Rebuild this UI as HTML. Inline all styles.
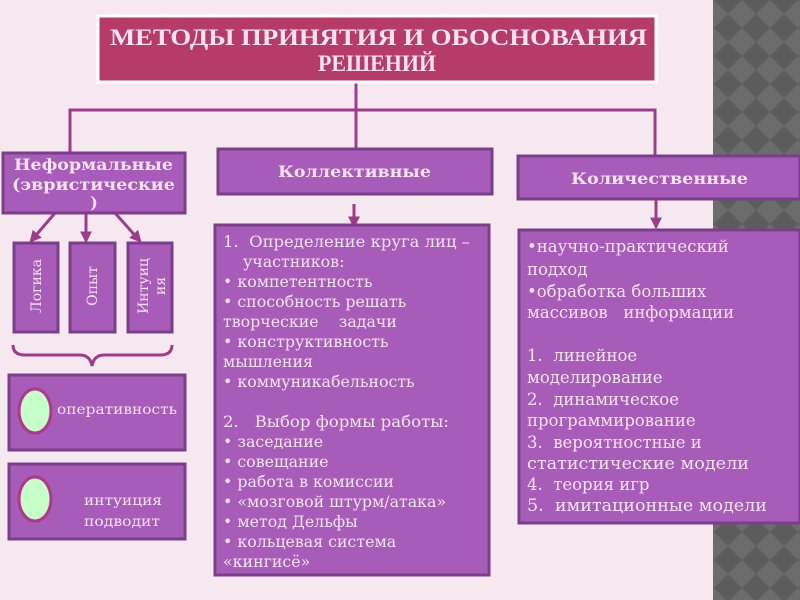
<!DOCTYPE html>
<html><head><meta charset="utf-8"><style>
html,body{margin:0;padding:0;width:800px;height:600px;overflow:hidden;background:#f5e9ef}
svg{display:block}
text{white-space:pre}
.s{font-family:"Liberation Serif","DejaVu Serif",serif;fill:#f3e4f0}
.d{font-family:"DejaVu Serif","Liberation Serif",serif;fill:#f3e4f0}
</style></head><body>
<svg width="800" height="600" xmlns="http://www.w3.org/2000/svg" xml:space="preserve">
<defs>
<pattern id="chk" width="28" height="28" patternUnits="userSpaceOnUse">
<rect width="28" height="28" fill="#5c5c5c"/>
<path d="M14 0 L28 14 L14 28 L0 14Z" fill="#6c6c6c"/>
</pattern>
<marker id="ar" viewBox="0 0 10 10" refX="8" refY="5" markerWidth="4" markerHeight="4" orient="auto"><path d="M0 0L10 5L0 10Z" fill="#a03a8c"/></marker>
</defs>
<rect x="713" y="0" width="87" height="600" fill="url(#chk)"/>
<g stroke="#a03a8c" stroke-width="3" fill="none">
<path d="M356 82 V152"/>
<path d="M70 152 V110 H655 V155"/>
<path d="M354 204 V226" marker-end="url(#ar)"/>
<path d="M656 200 V227" marker-end="url(#ar)"/>
<path d="M55 213 L31 241" marker-end="url(#ar)"/>
<path d="M86 213 V241" marker-end="url(#ar)"/>
<path d="M115 213 L140 241" marker-end="url(#ar)"/>
<path d="M13 345 Q13 355 25 355 H80 Q90 355 92 366 Q94 355 104 355 H160 Q172 355 172 345"/>
</g>
<rect x="98" y="16" width="558" height="66" fill="#b63b68" stroke="#fff" stroke-width="3"/>
<text class="s" x="110" y="45" font-size="23" font-weight="bold" fill="#fbeef5" textLength="537" lengthAdjust="spacingAndGlyphs">МЕТОДЫ ПРИНЯТИЯ И ОБОСНОВАНИЯ</text>
<text class="s" x="318" y="71" font-size="23" font-weight="bold" fill="#fbeef5" textLength="118" lengthAdjust="spacingAndGlyphs">РЕШЕНИЙ</text>
<g fill="#a65cb8" stroke="#7a3e8a" stroke-width="3">
<rect x="3" y="153" width="182" height="60"/>
<rect x="218" y="149" width="274" height="45"/>
<rect x="518" y="156" width="282" height="43"/>
<rect x="215" y="225" width="274" height="350"/>
<rect x="519" y="230" width="281" height="293"/>
<rect x="14" y="243" width="44" height="89"/>
<rect x="70" y="243" width="45" height="89"/>
<rect x="128" y="243" width="44" height="89"/>
<rect x="9" y="375" width="176" height="75"/>
<rect x="9" y="464" width="176" height="75"/>
</g>
<text class="d" x="14" y="170" font-size="16" font-weight="bold" textLength="159" lengthAdjust="spacingAndGlyphs">Неформальные</text>
<text class="d" x="12" y="190" font-size="16" font-weight="bold" textLength="163" lengthAdjust="spacingAndGlyphs">(эвристические</text>
<text class="d" x="94" y="208" font-size="16" font-weight="bold" text-anchor="middle">)</text>
<text class="d" x="278" y="177" font-size="16" font-weight="bold" textLength="153" lengthAdjust="spacingAndGlyphs">Коллективные</text>
<text class="d" x="571" y="184" font-size="16" font-weight="bold" textLength="177" lengthAdjust="spacingAndGlyphs">Количественные</text>
<g font-family="DejaVu Serif,Liberation Serif,serif" font-size="14" fill="#f3e4f0">
<text transform="translate(41,286) rotate(-90)" text-anchor="middle">Логика</text>
<text transform="translate(97,286) rotate(-90)" text-anchor="middle">Опыт</text>
<text transform="translate(148,286) rotate(-90)" text-anchor="middle">Интуиц</text>
<text transform="translate(165,286) rotate(-90)" text-anchor="middle">ия</text>
<text x="57" y="414" textLength="120" lengthAdjust="spacingAndGlyphs">оперативность</text>
<text x="84" y="505" textLength="78" lengthAdjust="spacingAndGlyphs">интуиция</text>
<text x="84" y="526" textLength="76" lengthAdjust="spacingAndGlyphs">подводит</text>
</g>
<ellipse cx="35" cy="411" rx="16" ry="22" fill="#c6ffc8" stroke="#b0388a" stroke-width="3"/>
<ellipse cx="35" cy="499" rx="16" ry="22" fill="#c6ffc8" stroke="#b0388a" stroke-width="3"/>
<g class="d" font-size="15.8">
<text x="223" y="247" textLength="247" lengthAdjust="spacingAndGlyphs">1.  Определение круга лиц –</text>
<text x="243" y="267">участников:</text>
<text x="223" y="287">• компетентность</text>
<text x="223" y="307">• способность решать</text>
<text x="223" y="327">творческие    задачи</text>
<text x="223" y="347">• конструктивность</text>
<text x="223" y="367">мышления</text>
<text x="223" y="387">• коммуникабельность</text>
<text x="223" y="427" textLength="226" lengthAdjust="spacingAndGlyphs">2.   Выбор формы работы:</text>
<text x="223" y="447">• заседание</text>
<text x="223" y="467">• совещание</text>
<text x="223" y="487">• работа в комиссии</text>
<text x="223" y="507">• «мозговой штурм/атака»</text>
<text x="223" y="527">• метод Дельфы</text>
<text x="223" y="547">• кольцевая система</text>
<text x="223" y="567">«кингисё»</text>
</g>
<g class="d" font-size="16.5">
<text x="527" y="252">•научно-практический</text>
<text x="527" y="275">подход</text>
<text x="527" y="297">•обработка больших</text>
<text x="527" y="318">массивов   информации</text>
<text x="527" y="361">1.  линейное</text>
<text x="527" y="383">моделирование</text>
<text x="527" y="405">2.  динамическое</text>
<text x="527" y="426">программирование</text>
<text x="527" y="448">3.  вероятностные и</text>
<text x="527" y="469" textLength="222" lengthAdjust="spacingAndGlyphs">статистические модели</text>
<text x="527" y="490">4.  теория игр</text>
<text x="527" y="511" textLength="240" lengthAdjust="spacingAndGlyphs">5.  имитационные модели</text>
</g>
</svg>
</body></html>
